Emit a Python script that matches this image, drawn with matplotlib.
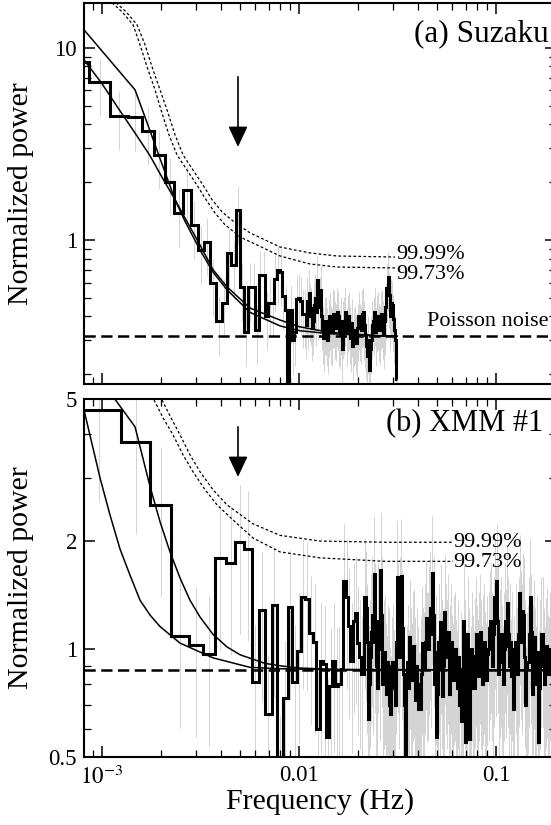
import numpy as np
import matplotlib
matplotlib.use('Agg')
import matplotlib.pyplot as plt
from matplotlib.ticker import FixedLocator, NullFormatter
import matplotlib.transforms as mtransforms

plt.rcParams['font.family'] = ['Liberation Serif', 'DejaVu Serif']
plt.rcParams['mathtext.fontset'] = 'stix'

# Power spectra: linear FFT bins (width df, first index n0) up to n_lin,
# then logarithmic rebinning with constant ratio log_step
log_step = 1.01221

# ---- (a) Suzaku
df_a = 2.45e-4
n0_a = 3
n_lin_a = 43
nseg_a = 9
power_a_lin = [
    8.4, 6.6, 4.4, 4.35, 3.67, 2.77, 2.0, 1.38, 1.82, 1.19,
    0.886, 0.98, 0.60, 0.38, 0.47, 0.86, 0.74, 1.43, 0.57, 0.33,
    0.57, 0.57, 0.34, 0.66, 0.66, 0.40, 0.47, 0.47, 0.63, 0.70,
    0.68, 0.51, 0.43, 0.17, 0.43, 0.30, 0.33, 0.49, 0.50, 0.48,
    0.41,
]
power_a_log = [
    0.41, 0.36, 0.48, 0.40, 0.53, 0.44, 0.42, 0.35, 0.38, 0.46,
    0.50, 0.42, 0.62, 0.45, 0.48, 0.55, 0.40, 0.34, 0.31, 0.38,
    0.38, 0.33, 0.30, 0.37, 0.40, 0.34, 0.33, 0.41, 0.41, 0.36,
    0.35, 0.42, 0.40, 0.33, 0.32, 0.38, 0.27, 0.36, 0.38, 0.42,
    0.33, 0.39, 0.40, 0.34, 0.31, 0.37, 0.28, 0.33, 0.34, 0.30,
    0.29, 0.35, 0.40, 0.35, 0.34, 0.41, 0.42, 0.36, 0.32, 0.28,
    0.25, 0.30, 0.21, 0.27, 0.30, 0.36, 0.38, 0.42, 0.33, 0.39,
    0.40, 0.35, 0.34, 0.40, 0.41, 0.36, 0.32, 0.38, 0.45, 0.56,
    0.64, 0.52, 0.40, 0.47, 0.46, 0.39, 0.34, 0.30, 0.19,
]
poisson_a = 0.316

# model curves (frequency, power)
model1_a_f = [8.10e-4, 1.471e-3, 1.752e-3, 1.97e-3, 2.348e-3, 2.638e-3, 3.145e-3,
              3.66e-3, 4.31e-3, 5.64e-3, 8.01e-3, 1.01e-2, 1.44e-2, 2.58e-2, 3.14e-2]
model1_a_p = [12.4, 6.04, 3.70, 2.65, 1.62, 1.25, 0.886,
              0.68, 0.55, 0.42, 0.357, 0.337, 0.325, 0.317, 0.316]
model2_a_f = [8.10e-4, 1.0e-3, 1.2e-3, 1.471e-3, 1.75e-3, 2.0e-3, 2.348e-3, 2.638e-3,
              3.145e-3, 3.66e-3, 4.31e-3, 5.64e-3, 8.01e-3, 1.01e-2, 1.44e-2, 2.58e-2, 3.14e-2]
model2_a_p = [8.66, 6.5, 4.9, 3.6, 2.75, 2.15, 1.62, 1.30,
              0.94, 0.70, 0.57, 0.442, 0.383, 0.353, 0.33, 0.317, 0.316]

# significance levels
sig9999_a_f = [1.178e-3, 1.324e-3, 1.506e-3, 1.653e-3, 1.794e-3, 1.97e-3, 2.138e-3, 2.348e-3,
               2.578e-3, 2.897e-3, 3.256e-3, 3.618e-3, 4.065e-3, 4.733e-3, 5.64e-3, 6.72e-3,
               8.01e-3, 1.135e-2, 1.56e-2, 3.07e-2]
sig9999_a_p = [17.15, 15.4, 13.17, 10.37, 7.96, 6.04, 4.75, 3.52,
               2.77, 2.31, 1.93, 1.62, 1.40, 1.23, 1.088, 1.0,
               0.919, 0.856, 0.825, 0.815]
sig9973_a_f = [1.124e-3, 1.263e-3, 1.437e-3, 1.559e-3, 1.692e-3, 1.858e-3, 1.993e-3, 2.188e-3,
               2.403e-3, 2.70e-3, 3.035e-3, 3.333e-3, 3.747e-3, 4.21e-3, 5.02e-3, 6.12e-3,
               8.01e-3, 1.135e-2, 1.56e-2, 3.07e-2]
sig9973_a_p = [17.15, 15.4, 13.17, 10.37, 7.96, 6.04, 4.75, 3.52,
               2.77, 2.31, 1.93, 1.65, 1.38, 1.20, 1.036, 0.942,
               0.825, 0.75, 0.723, 0.715]

# ---- (b) XMM #1
df_b = 5.0e-4
n0_b = 2
n_lin_b = 43
nseg_b = 5
power_b_lin = [
    4.66, 3.79, 2.53, 1.09, 1.03, 0.97, 1.80, 1.74, 1.99, 1.91,
    0.81, 1.29, 0.66, 1.33, 0.45, 0.73, 1.31, 0.81, 0.99, 1.40,
    1.38, 1.11, 1.05, 0.60, 0.93, 0.91, 0.57, 0.79, 0.93, 0.79,
    0.80, 0.88, 1.55, 1.40, 1.16, 0.93, 1.20, 1.26, 1.04, 0.95,
    0.85, 1.40,
]
power_b_log = [
    1.30, 1.05, 0.64, 0.80, 0.95, 1.12, 1.25, 1.05, 1.62, 1.20,
    0.90, 0.78, 1.20, 1.00, 1.66, 1.25, 0.80, 0.95, 0.98, 0.82,
    0.75, 0.92, 0.90, 0.70, 0.66, 0.85, 0.92, 0.78, 0.70, 1.05,
    1.59, 1.20, 0.95, 1.25, 1.60, 1.15, 0.85, 0.70, 0.48, 0.80,
    0.92, 0.78, 1.08, 0.90, 0.82, 1.00, 1.02, 0.85, 0.72, 0.90,
    0.80, 0.68, 0.68, 0.85, 1.04, 0.90, 0.88, 1.05, 1.22, 1.00,
    1.00, 1.18, 1.30, 1.10, 1.63, 1.25, 0.80, 0.98, 0.57, 0.75,
    1.05, 0.88, 1.19, 0.95, 0.74, 0.90, 1.27, 1.05, 0.95, 1.12,
    0.75, 0.92, 1.05, 0.86, 0.82, 0.98, 1.00, 0.84, 0.78, 0.95,
    0.70, 0.88, 0.63, 0.80, 1.20, 0.95, 0.55, 0.78, 1.10, 0.90,
    0.56, 0.80, 1.00, 0.86, 0.78, 0.96, 1.10, 0.92, 0.84, 1.00,
    1.12, 0.95, 0.80, 0.98, 1.05, 0.88, 0.82, 0.97, 1.00, 1.15,
    1.20, 1.00, 0.90, 1.10, 1.40, 1.18, 1.55, 1.20, 0.85, 1.02,
    1.10, 0.92, 0.80, 1.00, 1.20, 1.02, 1.35, 1.10, 0.90, 1.05,
    0.84, 1.00, 0.68, 0.85, 1.05, 0.90, 0.85, 1.10, 1.44, 1.15,
    1.05, 1.28, 1.25, 0.95, 0.70, 0.88, 0.92, 1.10, 1.40, 1.12,
    0.75, 0.92, 1.08, 0.90, 0.80, 0.98, 0.55, 0.78, 0.95, 1.10,
    1.10, 0.90, 0.80, 0.96, 1.02, 0.86, 0.85, 1.00, 1.00, 0.88,
    0.90, 1.02,
]
poisson_b = 0.875

model1_b_f = [8.10e-4, 9.77e-4, 1.098e-3, 1.234e-3, 1.387e-3, 1.56e-3, 1.752e-3, 1.97e-3,
              2.49e-3, 3.145e-3, 3.66e-3, 5.64e-3, 8.01e-3, 1.81e-2, 0.2016]
model1_b_p = [4.66, 3.01, 2.37, 1.905, 1.61, 1.37, 1.246, 1.157,
              1.04, 0.982, 0.946, 0.89, 0.882, 0.875, 0.875]
model2_b_f = [8.10e-4, 1.164e-3, 1.471e-3, 1.752e-3, 1.97e-3, 2.213e-3, 2.49e-3, 2.797e-3,
              3.145e-3, 3.66e-3, 4.31e-3, 5.02e-3, 6.72e-3, 8.01e-3, 1.01e-2, 1.56e-2, 0.2016]
model2_b_p = [6.5, 4.99, 4.18, 2.85, 2.27, 1.87, 1.58, 1.37,
              1.23, 1.10, 1.015, 0.965, 0.913, 0.899, 0.886, 0.878, 0.875]

sig9999_b_f = [2.016e-3, 2.24e-3, 2.489e-3, 2.797e-3, 3.145e-3, 3.66e-3, 4.31e-3, 5.84e-3,
               8.01e-3, 1.278e-2, 2.73e-2, 6.05e-2]
sig9999_b_p = [4.97, 4.43, 3.97, 3.49, 3.13, 2.79, 2.53, 2.24,
               2.08, 2.005, 1.99, 1.99]
sig9973_b_f = [1.837e-3, 2.04e-3, 2.293e-3, 2.578e-3, 2.897e-3, 3.333e-3, 3.836e-3, 4.733e-3,
               5.84e-3, 8.01e-3, 1.278e-2, 2.73e-2, 6.05e-2]
sig9973_b_p = [4.97, 4.43, 3.97, 3.49, 3.13, 2.79, 2.53, 2.27,
               2.045, 1.87, 1.80, 1.76, 1.76]

qpo_freq = 4.9e-3
f_min, f_max = 8.1e-4, 0.2016


def bin_edges(df, n0, n_lin, n_log):
    lin = (np.arange(n0, n_lin + 2) - 0.5) * df
    log = lin[-1] * log_step ** np.arange(1, n_log + 1)
    return np.concatenate([lin, log])


def draw_spectrum(ax, df, n0, n_lin, p_lin, p_log, nseg):
    power = np.asarray(p_lin + p_log)
    edges = bin_edges(df, n0, n_lin, len(p_log))
    freq = np.sqrt(edges[:-1] * edges[1:])
    err = power / np.sqrt(nseg)
    ax.vlines(freq, power - err, power + err, color='0.76', lw=0.5, zorder=1)
    ax.stairs(power, edges, baseline=None, color='k', lw=2.2, zorder=2)


def style_axes(ax):
    ax.set_xscale('log')
    ax.set_yscale('log')
    ax.set_xlim(f_min, f_max)
    ax.tick_params(which='both', direction='in', top=True, right=True,
                   labelsize=16.5, pad=5)
    ax.tick_params(which='major', length=8, width=1.1)
    ax.tick_params(which='minor', length=5, width=0.9)
    ax.xaxis.set_major_locator(FixedLocator([1e-3, 1e-2, 1e-1]))
    ax.xaxis.set_minor_locator(FixedLocator(
        [m * 10.0 ** e for e in (-4, -3, -2, -1) for m in range(2, 10)]))
    ax.xaxis.set_minor_formatter(NullFormatter())
    ax.yaxis.set_minor_formatter(NullFormatter())
    for s in ax.spines.values():
        s.set_linewidth(1.5)


fig = plt.figure(figsize=(5.51, 8.25), dpi=100)
W, H = 551.0, 825.0
ax1 = fig.add_axes([84 / W, 1 - 384 / H, 472 / W, 381 / H])
ax2 = fig.add_axes([84 / W, 1 - 757 / H, 472 / W, 358 / H])

dash_kw = dict(color='k', lw=1.8, dashes=(4.5, 2.2), zorder=3)
dot_kw = dict(color='k', lw=0.9, dashes=(2.2, 1.8), zorder=3)
curve_kw = dict(color='k', lw=1.1, zorder=3)
txt_kw = dict(fontsize=16)
arrow_kw = dict(arrowstyle='-|>,head_length=0.7,head_width=0.33',
                mutation_scale=18, color='k', lw=1.2, shrinkA=0, shrinkB=0)

# ---- top panel
style_axes(ax1)
draw_spectrum(ax1, df_a, n0_a, n_lin_a, power_a_lin, power_a_log, nseg_a)
ax1.axhline(poisson_a, **dash_kw)
ax1.plot(model1_a_f, model1_a_p, **curve_kw)
ax1.plot(model2_a_f, model2_a_p, **curve_kw)
ax1.plot(sig9999_a_f, sig9999_a_p, **dot_kw)
ax1.plot(sig9973_a_f, sig9973_a_p, **dot_kw)
ax1.set_ylim(0.178, 17.1)
ax1.yaxis.set_major_locator(FixedLocator([1, 10]))
ax1.yaxis.set_minor_locator(FixedLocator(
    [m * 0.1 for m in range(2, 10)] + list(range(2, 10))))
ax1.set_yticklabels(['1', '10'])
ax1.set_xticklabels([])
ax1.text(0.0312, 0.84, '99.99%', ha='left', va='center', **txt_kw)
ax1.text(0.0312, 0.663, '99.73%', ha='left', va='center', **txt_kw)
trans1 = mtransforms.blended_transform_factory(ax1.transAxes, ax1.transData)
ax1.text(0.985, 0.376, 'Poisson noise', ha='right', va='center', transform=trans1, **txt_kw)
ax1.text(0.985, 0.9186, '(a) Suzaku', ha='right', va='center',
         transform=ax1.transAxes, fontsize=22.5)
ax1.annotate('', xy=(qpo_freq, 3.05), xytext=(qpo_freq, 7.06), arrowprops=arrow_kw)
ax1.set_ylabel('Normalized power', fontsize=21.5)
ax1.yaxis.set_label_coords(-0.106, 0.5)

# ---- bottom panel
style_axes(ax2)
draw_spectrum(ax2, df_b, n0_b, n_lin_b, power_b_lin, power_b_log, nseg_b)
ax2.axhline(poisson_b, **dash_kw)
ax2.plot(model1_b_f, model1_b_p, **curve_kw)
ax2.plot(model2_b_f, model2_b_p, **curve_kw)
ax2.plot(sig9999_b_f, sig9999_b_p, **dot_kw)
ax2.plot(sig9973_b_f, sig9973_b_p, **dot_kw)
ax2.set_ylim(0.5, 5)
ax2.yaxis.set_major_locator(FixedLocator([0.5, 1, 2, 5]))
ax2.yaxis.set_minor_locator(FixedLocator([0.6, 0.7, 0.8, 0.9, 3, 4]))
ax2.set_yticklabels(['0.5', '1', '2', '5'])
ax2.set_xticklabels([r'$10^{-3}$', '0.01', '0.1'])
ax2.tick_params(axis='x', pad=6)
ax2.text(0.0605, 1.99, '99.99%', ha='left', va='center', **txt_kw)
ax2.text(0.0605, 1.75, '99.73%', ha='left', va='center', **txt_kw)
ax2.text(0.972, 0.930, '(b) XMM #1', ha='right', va='center',
         transform=ax2.transAxes, fontsize=22)
ax2.annotate('', xy=(qpo_freq, 3.03), xytext=(qpo_freq, 4.18), arrowprops=arrow_kw)
ax2.set_ylabel('Normalized power', fontsize=21.5)
ax2.yaxis.set_label_coords(-0.106, 0.5)
ax2.set_xlabel('Frequency (Hz)', fontsize=21.5)
ax2.xaxis.set_label_coords(0.5, -0.088)

fig.savefig('out.png', dpi=100, facecolor='white')
